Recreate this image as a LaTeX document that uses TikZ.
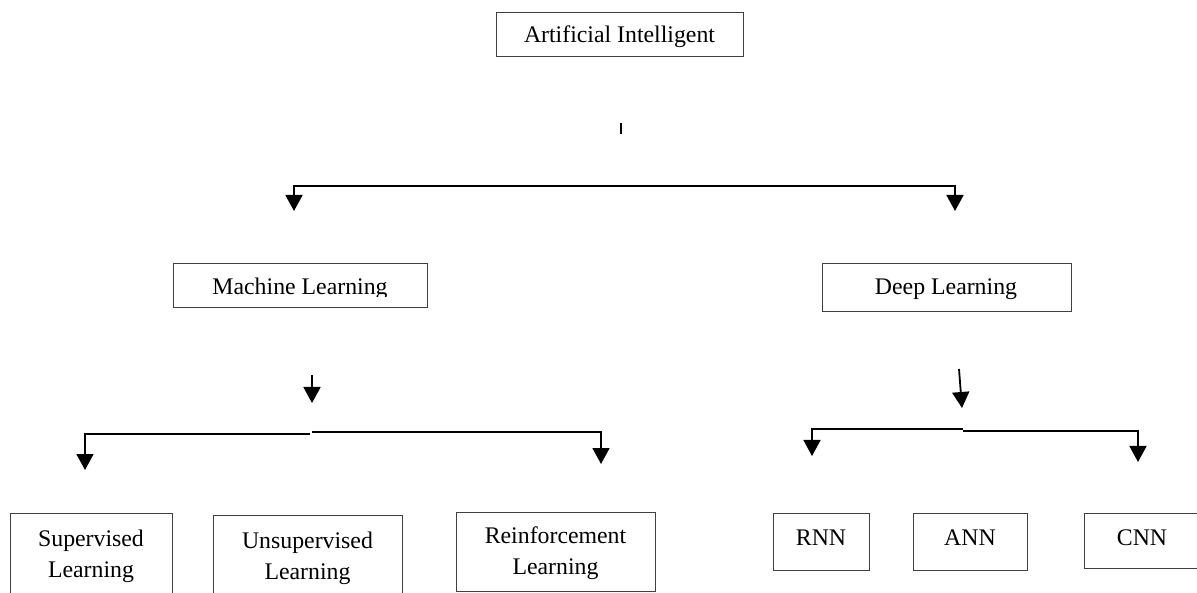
\documentclass[tikz,border=0pt]{standalone}
\usepackage{fontspec}
\setmainfont{Liberation Serif}
\usetikzlibrary{arrows.meta}
\begin{document}
\begin{tikzpicture}[x=1pt,y=-1pt,
  box/.style={draw=black!75, line width=0.9pt, inner sep=0pt},
  txt/.style={font=\fontsize{23.8}{28}\selectfont, inner sep=0pt, anchor=base},
  wire/.style={line width=1.8pt},
  flow/.style={wire, -{Triangle[width=17pt,length=16pt]}}]
\useasboundingbox (0,0) rectangle (1197,593);
\clip (0,0) rectangle (1197,593);

% boxes
\node[box, minimum width=247pt, minimum height=44pt] (ai) at (619.5,34) {};
\node[box, minimum width=254pt, minimum height=44pt] (ml) at (300,285) {};
\node[box, minimum width=249pt, minimum height=48pt] (dl) at (946.5,287) {};
\node[box, minimum width=162pt, minimum height=97pt] (sl) at (91,561.5) {};
\node[box, minimum width=189pt, minimum height=95pt] (ul) at (307.5,562.5) {};
\node[box, minimum width=199pt, minimum height=79pt] (rl) at (555.5,551.5) {};
\node[box, minimum width=96pt, minimum height=57pt] (rnn) at (821,541.5) {};
\node[box, minimum width=114pt, minimum height=57pt] (ann) at (970,541.5) {};
\node[box, minimum width=116pt, minimum height=55pt] (cnn) at (1142,540.5) {};

% labels
\node[txt] (ait) at (619.5,43) {Artificial Intelligent};
\begin{scope}
  \clip (173,263) rectangle (427,297);
  \node[txt] (mlt) at (300,295) {Machine Learning};
\end{scope}
\node[txt] (dlt) at (946,295) {Deep Learning};
\node[txt] (slt1) at (91,546) {Supervised};
\node[txt] (slt2) at (91,577) {Learning};
\node[txt] (ult1) at (307.5,548) {Unsupervised};
\node[txt] (ult2) at (307.5,579) {Learning};
\node[txt] (rlt1) at (555.5,543) {Reinforcement};
\node[txt] (rlt2) at (555.5,574) {Learning};
\node[txt] (rnnt) at (821,545) {RNN};
\node[txt] (annt) at (970,545) {ANN};
\node[txt] (cnnt) at (1142,545) {CNN};

% connector points
\coordinate (tk1) at (621,123);
\coordinate (tk2) at (621,134);
\coordinate (hub) at (621,186);
\coordinate (toML) at (294,211);
\coordinate (toDL) at (955,211);

\coordinate (mlA) at (312,375);
\coordinate (mlB) at (312,403);
\coordinate (mlL) at (310,434);
\coordinate (mlR) at (312,432);
\coordinate (toSL) at (85,470);
\coordinate (toRL) at (601,464);

\coordinate (dlA) at (959,369);
\coordinate (dlB) at (962,408);
\coordinate (dlL) at (963,429);
\coordinate (dlR) at (963,431);
\coordinate (toRNN) at (812,456);
\coordinate (toCNN) at (1138,462);

% connectors
\draw[wire] (tk1) -- (tk2);
\draw[flow] (hub) -| (toML);
\draw[flow] (hub) -| (toDL);

\draw[flow] (mlA) -- (mlB);
\draw[flow] (mlL) -| (toSL);
\draw[flow] (mlR) -| (toRL);

\draw[flow] (dlA) -- (dlB);
\draw[flow] (dlL) -| (toRNN);
\draw[flow] (dlR) -| (toCNN);
\end{tikzpicture}
\end{document}
